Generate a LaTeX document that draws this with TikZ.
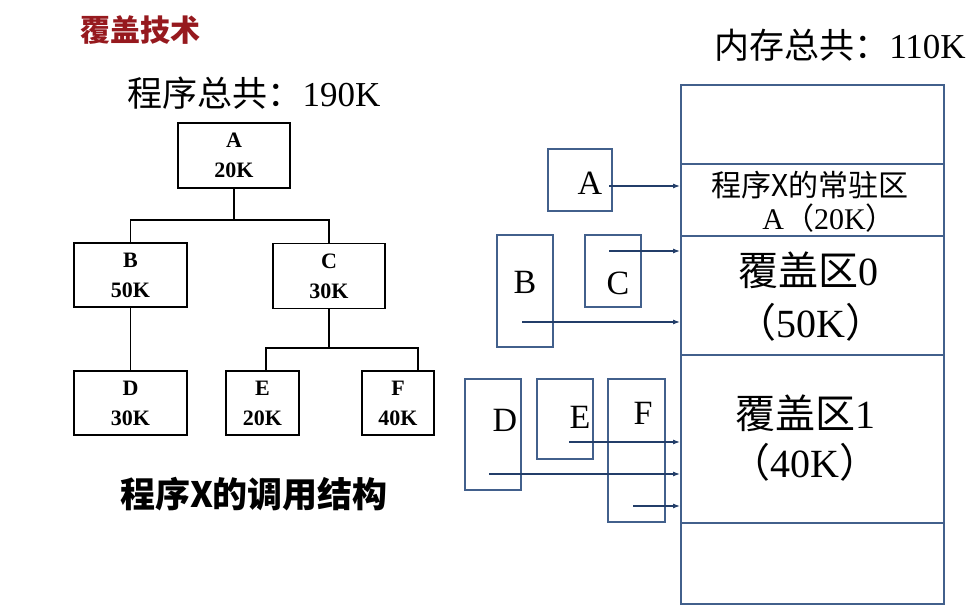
\documentclass[tikz,border=0pt]{standalone}
\usepackage{fontspec}
\setmainfont{Liberation Serif}
\newfontfamily\cjk{Noto Sans CJK SC}
\usetikzlibrary{arrows.meta}
\newcommand{\zhs}[1]{{\cjk #1}}
\definecolor{memline}{RGB}{66,96,140}
\definecolor{arrowblue}{RGB}{35,62,105}
\definecolor{titlered}{RGB}{150,25,30}
\tikzset{
  treebox/.style={draw=black, line width=1.8pt, inner sep=0pt, align=center,
    font=\fontsize{22}{30}\selectfont\bfseries},
  memcell/.style={draw=memline, line width=1.6pt, minimum width=263pt,
    inner sep=0pt, anchor=north west},
  segbox/.style={draw=memline, line width=1.3pt, inner sep=0pt},
  seglabel/.style={font=\fontsize{34}{34}\selectfont, inner sep=0pt},
  memtext/.style={font=\fontsize{30}{30}\selectfont, inner sep=0pt},
  bigtext/.style={font=\fontsize{40}{40}\selectfont, inner sep=0pt},
  headtext/.style={font=\fontsize{35}{35}\selectfont, inner sep=0pt},
  link/.style={line width=1.6pt},
  loadarrow/.style={draw=arrowblue, line width=1.1pt,
    -{Latex[length=7pt,width=5pt]}},
}
\begin{document}
\begin{tikzpicture}[x=1pt,y=-1pt]
\useasboundingbox (0,0) rectangle (972,612);

% headings
\node[inner sep=0pt, text=titlered, font=\fontsize{30}{30}\selectfont\bfseries] (title) at (140,30) {\zhs{覆盖技术}};
\node[headtext] (progsum) at (254,93) {\zhs{程序总共：}190K};
\node[headtext] (memsum) at (840,45) {\zhs{内存总共：}110K};
\node[inner sep=0pt, font=\fontsize{35}{35}\selectfont\bfseries] (caption) at (254,494) {\zhs{程序X的调用结构}};

% call tree of program X
\node[treebox, minimum width=112pt, minimum height=65pt] (tA) at (234,155.5) {A\\20K};
\node[treebox, minimum width=113pt, minimum height=64pt] (tB) at (130.5,275) {B\\50K};
\node[treebox, minimum width=112pt, minimum height=65pt] (tC) at (329,276) {C\\30K};
\node[treebox, minimum width=113pt, minimum height=64pt] (tD) at (130.5,403) {D\\30K};
\node[treebox, minimum width=73pt, minimum height=64pt] (tE) at (262.5,403) {E\\20K};
\node[treebox, minimum width=72pt, minimum height=64pt] (tF) at (398,403) {F\\40K};

\draw[link] (tA.south) -- ++(0,31) -| (tB.north);
\draw[link] (tA.south) -- ++(0,31) -| (tC.north);
\draw[link] (tB.south) -- (tD.north);
\draw[link] (tC.south) -- ++(0,38.5) -| ([xshift=3.5pt]tE.north);
\draw[link] (tC.south) -- ++(0,38.5) -| ([xshift=20pt]tF.north);

% memory layout
\node[memcell, minimum height=79pt] (m0) at (680,84) {};
\node[memcell, minimum height=72pt] (res) at (680,163) {};
\node[memcell, minimum height=119pt] (ov0) at (680,235) {};
\node[memcell, minimum height=168pt] (ov1) at (680,354) {};
\node[memcell, minimum height=81pt] (m4) at (680,522) {};

\node[memtext] (resT1) at (810,185) {\zhs{程序X的常驻区}};
\node[memtext] (resT2) at (829,218) {A\zhs{（}20K\zhs{）}};
\node[bigtext] (ov0T1) at (808,270) {\zhs{覆盖区}0};
\node[bigtext] (ov0T2) at (811,322) {\zhs{（}50K\zhs{）}};
\node[bigtext] (ov1T1) at (805,413) {\zhs{覆盖区}1};
\node[bigtext] (ov1T2) at (805,462) {\zhs{（}40K\zhs{）}};

% program segments
\node[segbox, minimum width=64pt, minimum height=62pt] (sA) at (580,180) {};
\node[segbox, minimum width=56pt, minimum height=112pt] (sB) at (525,291) {};
\node[segbox, minimum width=56pt, minimum height=72pt] (sC) at (613,271) {};
\node[segbox, minimum width=56pt, minimum height=111pt] (sD) at (493,434.5) {};
\node[segbox, minimum width=56pt, minimum height=80pt] (sE) at (565,419) {};
\node[segbox, minimum width=57pt, minimum height=143pt] (sF) at (636.5,450.5) {};

\node[seglabel] (lA) at (590,183) {A};
\node[seglabel] (lB) at (525,282) {B};
\node[seglabel] (lC) at (618,283) {C};
\node[seglabel] (lD) at (505,420) {D};
\node[seglabel] (lE) at (580,417) {E};
\node[seglabel] (lF) at (643,413) {F};

% loading arrows into memory
\coordinate (aA) at (609,186);
\coordinate (aC) at (609,251);
\coordinate (aB) at (522,322);
\coordinate (aE) at (569,442);
\coordinate (aD) at (489,474);
\coordinate (aF) at (633,506);
\draw[loadarrow] (aA) -- (aA -| res.west);
\draw[loadarrow] (aC) -- (aC -| ov0.west);
\draw[loadarrow] (aB) -- (aB -| ov0.west);
\draw[loadarrow] (aE) -- (aE -| ov1.west);
\draw[loadarrow] (aD) -- (aD -| ov1.west);
\draw[loadarrow] (aF) -- (aF -| ov1.west);
\end{tikzpicture}
\end{document}
